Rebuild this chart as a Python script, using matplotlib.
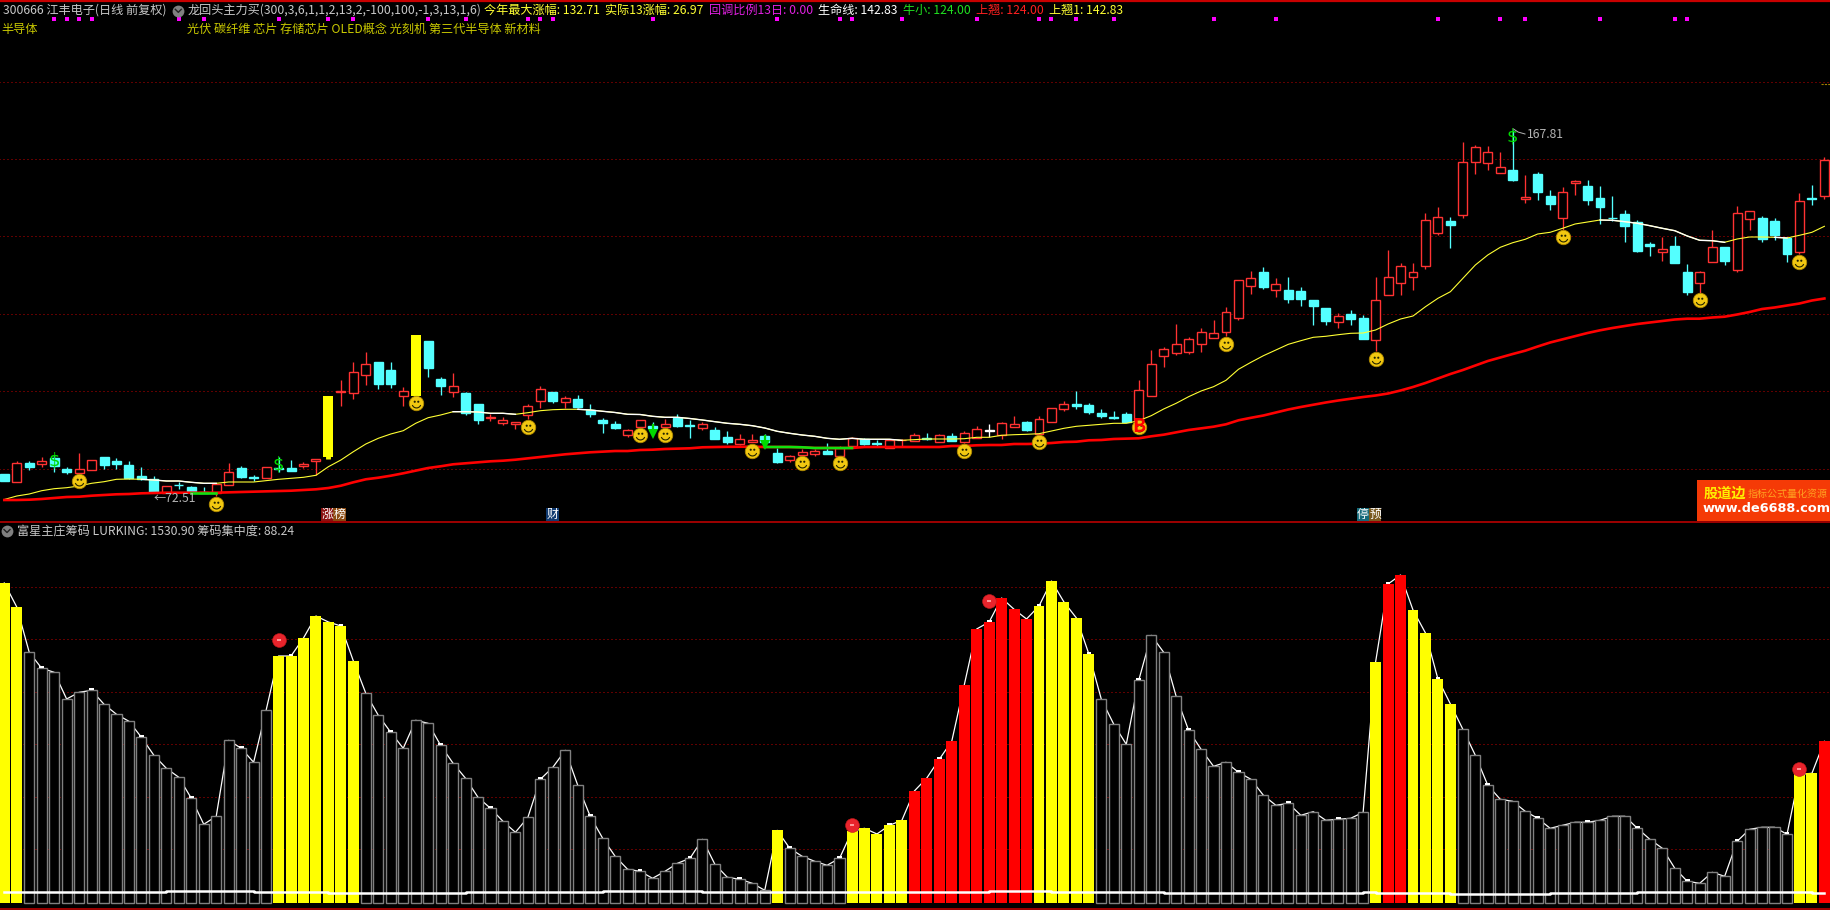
import matplotlib
matplotlib.use('Agg')
import matplotlib.pyplot as plt
from matplotlib.path import Path
from matplotlib.patches import Rectangle

plt.rcParams['font.family'] = ['Noto Sans CJK SC', 'DejaVu Sans']

# price panel values, on the chart's own (log spaced) level scale
opens = [48,40.3,59,58.3,64,53,49.3,52.3,65,61,57,46,42.7,29.3,37.3,35,30,29.3,37.3,54,
         44.7,44.3,54.3,54,56,61,65.3,130.3,129.3,147.3,160,151.7,126.3,126,181,142.7,130.3,129,118,104,
         99,98,106.7,121.3,130,119.7,123,112,101.7,98,87.3,95.3,96,95.3,104.3,97,94.3,92,85,78.3,
         80.3,86,69,61.7,67.3,68.3,71,66.3,76,82.7,79,73.7,81.7,81.3,83.7,80.3,86,80,83.7,91.3,
         87,95.3,100,88,100.3,113,118,117,109,105,108,102,126.3,166.3,169,170.3,178.3,184.3,190.3,204.3,
         236.3,249.7,232.3,231.7,230.7,221.7,213.7,200.3,208,203.7,182.3,227.3,239.3,245.3,256.3,289.3,300.7,307.3,360.3,358.7,
         348.7,351.7,323,348,326,304.3,338.7,336,324,304.3,308,300,278,270.3,276,250,239.3,260.3,275,252,
         303.3,304,301,284,270.3,324,326.3]
closes = [41,59,55,60.7,56,50.3,52.7,61.7,57.3,58,44.3,42.7,30,35.7,36.7,30,29.3,37.7,50,45,
          43.7,54.7,53.3,50.7,58,62.7,126,131,149.7,157.7,138,138,130.7,187,154,136,135.7,109.3,102,104.7,
          101.7,100.3,115.7,132.7,121,123.7,115,108,99,94,91.7,101.7,94.3,98,96,96.3,98,83.3,80.3,82.7,
          82,80.3,60,65.7,69.7,70.7,68.3,73.7,84.3,78.3,78.3,81.7,82.3,86.7,82.7,86.7,81,88.7,92.7,92,
          98.7,97.7,92,102.7,113.7,117.7,116.3,110,106,104,100,131.7,157.7,172.7,177.7,182.7,189.7,188.7,209.7,241.7,
          243.7,235,237.7,223,223,216,201,205.7,203,183,221.7,244.7,255.7,249.7,301.7,304.7,297.3,359.7,374.7,370.3,
          354.7,342.3,325,330,318,329.7,341,322,315,303.7,296,271,276,272.7,259,230,249.7,274.7,261,308.7,
          310.7,283,287,268,320.7,323,362]
highs = [48,61,60.7,64.7,67,55,69,61.7,65,64,60.7,55,46,35.7,40.3,36.3,35,37.7,59,56,
         47,54.7,65.3,62,60.3,62.7,126,142,160,170,160,160,134.7,187,181,144.7,148.7,130,118,108,
         104.7,100.3,118,136,130,126,127,118,103.7,101,93,101.7,99.7,102.7,108,102,100.3,94.7,90.7,88,
         88,87.7,74.3,67,72.7,72.7,78.7,76,85.3,83.7,82,81.7,83,89,89,87.7,89,91,96,98,
         100,106,101,106,113.7,121,131,119,113,111,110,142,172,175,198,185,194,202,214.7,241.7,
         250.7,254.7,244,244.7,234.7,221.7,213.7,208.7,212,207,244.7,272,258.7,258.7,309,314.7,304.7,379.7,376.7,376,
         369.7,392,347,350,332,335,342,342,336,326,312,302,280,285,286,258,251,292,275,316,
         310.7,306,304,285,328.7,337,365]
lows = [41,40.3,52,55,50,48,46,52.3,53,53,42.7,42,30,29.3,32.7,30,29.3,26,37.3,44,
        41,44.3,50.3,50.7,54.3,47,63.3,116,122.7,137,133,134,116,126,145.3,127,124.7,107,98,101,
        97.3,93,103,113.7,119,114.3,113.7,105.3,89,93,85,95.3,89,94.7,95,84,92,83.3,78.3,77,
        79.7,80.3,59,60.3,67.3,66.3,68.3,66.3,76,76.7,76,73.7,75,81.3,82,79.7,81,78.7,83.7,84.7,
        83,95.3,91,88,100.3,111,113,108,104,103,100,102,126.3,155,167,168.3,170,184.3,186,202.3,
        228,233,225,219,216,197,197,194,197,183,171.3,227.3,227.3,232,253.3,287.3,274.3,304.3,348.3,352.3,
        348.7,341.3,319.3,322,312,292,327,317,298,301.3,280,270,266,261,259,227,229,260.3,257,250.3,
        292,280,282,260,268,317,323.3]
# limit-up days are painted solid yellow, the one flat day white
limit_up_days = [26, 33]
flat_days = [79]

ma_line = [22.5,26,28,31.3,33.3,34.3,36,38.7,40.3,42.7,43,42.7,42,41,41,39.7,38.7,38.7,40,40,
           40,41.3,42.7,43.7,44.7,46.7,55.3,62,70.3,78,83.7,88,91.3,98.7,104.3,107,110.3,110.3,110,108.7,
           108.7,107.7,109.3,111.3,112.3,112.7,112.7,112,110.7,109.5,107.7,107.5,105.7,104.7,104.7,103.5,102,100.3,98.7,97.7,
           96.3,94,90.7,88.7,87,85.7,83.7,82.7,83.7,82.7,82.7,82.7,81.7,82.3,83,83,83,83.3,84.7,84.7,
           86.7,87.3,87.7,88.3,91,93.7,95.7,96.7,97.7,98.7,98.7,101.3,106.3,113,118.7,125.3,131,135.3,141.7,152.7,
           159.7,166.3,172,177.7,181.3,184.7,185.7,187.3,188.7,189,192,198,203,206,215.3,223.7,230.3,243.7,257,267,
           274.7,279.3,282.7,288,289.7,293.7,298,300,302,301.7,300.3,298.7,296.3,293.7,291.3,286,281.7,281.3,279.7,283,
           285,285,284.7,284,286.7,289.7,295.7]
# stretches where the thin line turns white
ma_white_spans = [(11, 17), (36, 41), (46, 72), (128, 138), (142, 143)]

life_line = [22,22,22.3,23,24,25,25.3,26.3,27,27.7,28,28.7,29,29.3,29.3,29.3,29.3,29.3,29.7,30,
             30.3,30.7,31,31.3,32,32.7,34,36.3,39.7,42.7,44.3,46.3,48.7,51.3,54,55.7,57.7,58.7,59.7,60.7,
             61.3,62.3,63.7,65,66.3,67.7,68.7,69.7,70.3,71,71,72,72.3,73,73.3,73.7,74.7,75,75.2,75.2,
             75.3,75,75,75,74.7,74,74,74,74,75,75,75,75,75,75,75,76,76,76.7,77,
             77,78,78,78.3,79,80,80.3,81.7,82,83,83.3,83.7,85.7,87.3,89.7,92,93.7,95.3,97.7,101.7,
             104.2,106.5,109.5,112.5,115,117.3,119.5,121.5,123.3,125,126.5,128.5,131.5,135,139,143.5,148,152,156.5,161,
             164.5,168,171.3,175.5,179.5,182.7,186,189,191.7,194,196,198,199.5,201,202.5,203.3,203.3,204.5,205.3,207.5,
             210,213,214.5,216.5,218.5,221.5,223.5]
life_green_spans = [(15, 17), (61, 68)]

smile_days = [6, 17, 33, 42, 51, 53, 60, 64, 67, 77, 83, 91, 98, 110, 125, 136, 144]
smile_levels = [41, 18.3, 119, 95, 87, 87, 71.3, 59, 59, 71.3, 80, 95.3, 178, 163, 285, 222, 260]
dollar_days = [4, 22, 121]
dollar_levels = [61, 58, 386]
arrow_days = [52, 61]
arrow_levels = [88.5, 77]
top_grid = [440.5, 363, 285.7, 207.7, 130.7, 52.7]
signal_days = [4,5,6,7,14,16,22,26,28,34,37,42,43,44,52,62,67,68,72,78,83,84,86,89,97,102,115,120,122,128,134,135]

# chip panel values
chip_bars = [320,296,250.7,234.7,230.7,204,210.7,212.7,198.7,188.7,181.7,165.7,147.7,134.7,125.7,104.7,78.7,86.7,162.7,154.7,
             140.7,192.7,247,247,265,287,281,277,242,209.7,187.7,170.7,154.7,182.7,179.7,157.7,139.7,124.7,105.7,94.7,
             81.7,70.7,85.7,123.7,135.7,152.7,117.7,86.7,64.7,46.7,33.7,31.7,24.7,31.7,39.7,44.7,63.7,38.7,25.7,23.7,
             19.7,12.7,72.7,54.7,46.7,41.7,37.7,44.7,71.7,74.7,69,77.7,82.7,112,125,143.7,161.7,217.7,274,281,
             305,293.7,284,297,322,301,285,249,203.7,178.7,158.7,222.7,267.7,250.7,206.7,172.7,153.7,136.7,140.7,130.7,
             123.7,107.7,97.7,99.7,87.7,91.3,82.7,83.7,84.7,90.7,241,319,328,293,270,224,199,173.7,147.7,117.7,
             103.7,101.7,91.7,84.7,74.7,77.7,80.7,80.7,82.7,86.7,86.7,74.7,63.7,54.7,34.7,21.7,19.7,30.7,26.7,61.7,
             73.7,75.7,75.7,68.7,128.7,129.7,161.7]
yellow_days = [0,1,22,23,24,25,26,27,28,62,68,69,70,71,72,83,84,85,86,87,110,113,114,115,116,144,145]
red_days = [73,74,75,76,77,78,79,80,81,82,111,112,146]
lurking = [11]*13 + [12.3]*7 + [11]*6 + [10.3]*11 + [11]*11 + [12.3]*8 + [11]*23 + [12.3]*5 + [11]*9 \
    + [10]*16 + [11.2] + [10.3]*6 + [9.3]*8 + [10.3]*7 + [11]*14 + [10.3]*2
ball_days = [22, 68, 79, 144]
ball_levels = [263, 78, 302, 134]
low_grid = [315.7, 263.7, 210.7, 158.7, 105.7, 53.7]

RED = '#ff3232'
CYAN = '#54ffff'
GRID = '#c00000'
days = list(range(len(opens)))

fig = plt.figure(figsize=(18.31, 9.10), facecolor='black')
ax = fig.add_axes([0, 388 / 910, 1, 522 / 910], facecolor='black')
ax2 = fig.add_axes([0, 0, 1, 388 / 910], facecolor='black')
for a in (ax, ax2):
    a.set_xlim(-0.345, 146.53)
    a.axis('off')
ax.set_ylim(0, 522)
ax2.set_ylim(-7, 381)

# price panel
for g in top_grid:
    ax.plot([-1, 148], [g, g], color=GRID, lw=0.72, ls=(0, (1, 3)), zorder=1)

for i in days:
    top, bot = max(opens[i], closes[i]), min(opens[i], closes[i])
    if i in limit_up_days:
        ax.bar(i, top - bot, bottom=bot, width=0.8, color='#ffff00', zorder=3)
        ax.plot([i, i], [lows[i], highs[i]], color='#ffff00', lw=3.5, zorder=2, solid_capstyle='butt')
        continue
    if i in flat_days:
        col = '#ffffff'
    elif closes[i] >= opens[i]:
        col = RED
    else:
        col = CYAN
    ax.plot([i, i], [lows[i], highs[i]], color=col, lw=0.95, zorder=2, solid_capstyle='butt')
    face = 'black' if col == RED else col
    ax.bar(i, top - bot, bottom=bot, width=0.72, facecolor=face, edgecolor=col, linewidth=1.0, zorder=3)

ax.plot(days, ma_line, color='#ffff33', lw=0.8, zorder=4)
for a, b in ma_white_spans:
    ax.plot(days[a:b + 1], ma_line[a:b + 1], color='white', lw=1.0, zorder=4)
ax.plot(days, life_line, color='#ff0000', lw=1.9, zorder=4)
for a, b in life_green_spans:
    ax.plot(days[a:b + 1], life_line[a:b + 1], color='#10e010', lw=1.9, zorder=4)

ax.plot(signal_days, [502.7] * len(signal_days), ls='', marker='s', ms=2.2, color='#ff00ff', mew=0, zorder=5)

# smiley faces: a gold disc with a small eyes + mouth marker on it
eye = Path.unit_circle()
left_eye = eye.transformed(matplotlib.transforms.Affine2D().scale(0.07).translate(-0.24, 0.24))
right_eye = eye.transformed(matplotlib.transforms.Affine2D().scale(0.07).translate(0.24, 0.24))
mouth = Path.arc(200, 340).transformed(matplotlib.transforms.Affine2D().scale(0.6))
face_marker = Path.make_compound_path(left_eye, right_eye, mouth)
ax.plot(smile_days, smile_levels, ls='', marker='o', ms=10.4, mfc='#f2c811', mec='#b08a00', mew=0.6, zorder=6)
ax.plot(smile_days, smile_levels, ls='', marker=face_marker, ms=6.4, mfc='none', mec='#222200', mew=0.8, zorder=7)
ax.text(91, 95.3, 'B', color='#ff0000', fontsize=14, fontweight='bold', ha='center', va='center', zorder=8)

for d, v in zip(dollar_days, dollar_levels):
    ax.text(d, v, '$', color='#00d800', fontsize=13, ha='center', va='center', zorder=6, family='DejaVu Sans')
for d, v in zip(arrow_days, arrow_levels):
    ax.plot([d, d], [v, v + 9], color='#00d800', lw=1.6, zorder=6)
    ax.plot([d], [v], marker='v', ms=7, color='#00d800', mew=0, zorder=6)

# chip panel
for g in low_grid:
    ax2.plot([-1, 148], [g, g], color=GRID, lw=0.72, ls=(0, (1, 3)), zorder=1)
ax2.plot(days, chip_bars, color='white', lw=0.9, zorder=2)
for i in days:
    if i in yellow_days or i in red_days:
        c = '#ffff00' if i in yellow_days else '#ff0000'
        ax2.bar(i, chip_bars[i], width=0.88, color=c, zorder=3)
    else:
        ax2.bar(i, chip_bars[i], width=0.81, facecolor='black', edgecolor='#808080', linewidth=1.0, zorder=3)
ax2.bar(days[3::4], [2] * len(days[3::4]), bottom=chip_bars[3::4], width=0.38, color='white', zorder=4)
ax2.step(days, lurking, where='post', color='white', lw=1.8, zorder=5)
ax2.plot(ball_days, ball_levels, ls='', marker='o', ms=10, mfc='#e8242c', mec='#c01818', mew=0.4, zorder=6)
ax2.plot(ball_days, ball_levels, ls='', marker='_', ms=3.5, mec='#ff9c9c', mew=1.4, zorder=7)

# overlay in picture pixels for the header text, separators, tags and logo
ov = fig.add_axes([0, 0, 1, 1])
ov.set_xlim(0, 1831)
ov.set_ylim(910, 0)
ov.axis('off')
ov.patch.set_alpha(0)

ov.plot([0, 1831], [0.7, 0.7], color='#c80000', lw=1.6)
ov.plot([0, 1831], [522, 522], color='#c80000', lw=1.1)
ov.plot([0, 1831], [909.3, 909.3], color='#c80000', lw=1.1)
ov.plot([1821, 1830], [84, 84], color='#a08000', lw=0.8, ls=(0, (2, 1)))


def label(x, y, s, color, size=8.75):
    ov.text(x, y, s, color=color, fontsize=size, ha='left', va='center')


GREY = '#c8c8c8'
label(3, 10.5, '300666 江丰电子(日线 前复权)', GREY)
label(187.4, 10.5, '龙回头主力买(300,3,6,1,1,2,13,2,-100,100,-1,3,13,1,6)', GREY)
label(484, 10.5, '今年最大涨幅: 132.71', '#ffff33')
label(604.7, 10.5, '实际13涨幅: 26.97', '#ffff33')
label(709.5, 10.5, '回调比例13日: 0.00', '#e020e0')
label(818, 10.5, '生命线: 142.83', '#ffffff')
label(903, 10.5, '牛小: 124.00', '#20e020')
label(975.6, 10.5, '上翘: 124.00', '#ff2020')
label(1049, 10.5, '上翘1: 142.83', '#ffff33')
label(1, 29.7, '半导体', '#c8c800')
label(187.4, 29.7, '光伏 碳纤维 芯片 存储芯片 OLED概念 光刻机 第三代半导体 新材料', '#c8c800')
label(16.6, 530.7, '富星主庄筹码 LURKING: 1530.90 筹码集中度: 88.24', GREY)
label(154, 499, '←72.51', '#b4b4b4')
label(1527, 134.3, '167.81', '#b4b4b4')
ov.plot([1513.5, 1518, 1525], [129, 132, 134], color='#b4b4b4', lw=0.7)

for x, y in [(178.3, 10.5), (7, 530.7)]:
    ov.plot([x], [y], marker='o', ms=8.5, color='#808080', mew=0)
    ov.plot([x - 3, x, x + 3], [y - 1.2, y + 1.8, y - 1.2], color='#222222', lw=1.0)

tags = [(321.5, 11.5, '涨', '#8a1010'), (333, 13, '榜', '#8a4a10'), (546.5, 12.2, '财', '#103a70'),
        (1357, 12, '停', '#146a7a'), (1369, 12.5, '预', '#7a5a20')]
for x, w, s, c in tags:
    ov.add_patch(Rectangle((x, 508.3), w, 12.4, facecolor=c, edgecolor='none'))
    ov.text(x + w / 2, 514.5, s, color='white', fontsize=8.6, ha='center', va='center')

ov.add_patch(Rectangle((1697, 480), 134, 41, facecolor='#f53a06', edgecolor='none'))
ov.text(1704, 493.5, '股道边', color='#ffee00', fontsize=10.2, fontweight='bold', ha='left', va='center')
ov.text(1748, 494, '指标公式量化资源', color='#ffa020', fontsize=7.2, ha='left', va='center')
ov.text(1703, 509, 'www.de6688.com', color='white', fontsize=9.3, fontweight='bold', ha='left', va='center',
        family='DejaVu Sans')

fig.savefig('out.png', dpi=100, facecolor='black')
